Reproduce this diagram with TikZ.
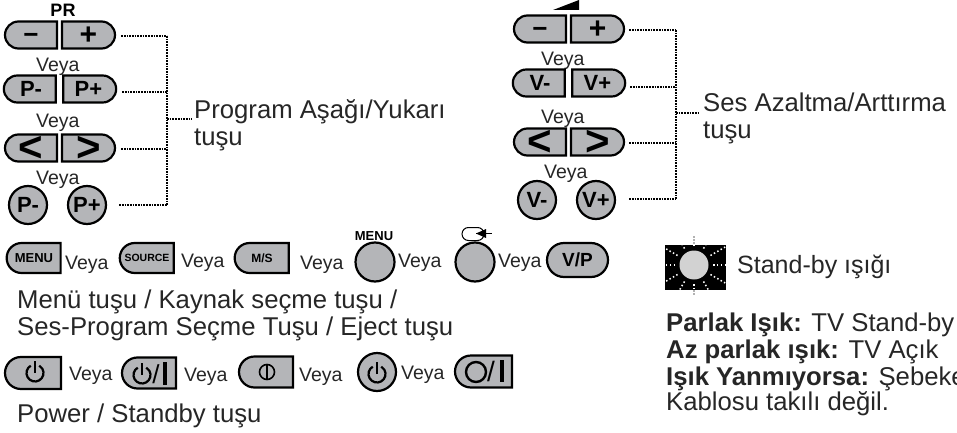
\documentclass[tikz,border=0pt]{standalone}
\usepackage{fontspec}
\setmainfont{Liberation Sans}
\usetikzlibrary{shapes.misc}
\definecolor{keygray}{HTML}{B4B5B8}
\newcommand{\powersym}[3]{%
  \draw[#3] ([shift={(120:#1pt)}]0,0) arc[start angle=120,end angle=420,radius=#1pt];
  \draw[#3] (0,0) -- (0,-#2);}
\newcommand{\keyglyph}[2]{\smash{\fontsize{#1}{#1}\selectfont\raisebox{-.33em}{#2}}}
\tikzset{
  keybody/.style={draw=black,fill=keygray,line width=2.2pt,inner sep=0pt,text=black,font=\bfseries\fontsize{22}{22}\selectfont},
  halfl/.style={keybody,rounded rectangle,rounded rectangle right arc=none,minimum width=52pt,minimum height=27pt},
  halfr/.style={keybody,rounded rectangle,rounded rectangle left arc=none,minimum width=53pt,minimum height=27pt},
  roundkey/.style={keybody,circle,minimum size=38pt},
  widekey/.style={keybody,rounded rectangle,rounded rectangle right arc=none,minimum width=54pt,minimum height=30pt},
  dotline/.style={line width=1.7pt,dash pattern=on 1.7pt off 1pt},
  txt/.style={inner sep=0pt,anchor=base west,text=black!85,font=\fontsize{19.5}{24}\selectfont},
  bigtxt/.style={txt,font=\fontsize{25.7}{30}\selectfont},
  small/.style={inner sep=0pt,font=\bfseries\fontsize{13}{13}\selectfont},
  iconline/.style={line width=2.2pt},
}
\begin{document}
\begin{tikzpicture}[x=1pt,y=-1pt]
\useasboundingbox (0,0) rectangle (957,433);

\node[inner sep=0pt,font=\bfseries\fontsize{18}{18}\selectfont] (prtitle) at (63,10) {PR};
\node[halfl] (prm) at (31,35) {\keyglyph{26}{−}};
\node[halfr] (prp) at (88.5,35) {\keyglyph{30}{+}};
\node[txt] (veya1) at (36,72) {Veya};
\node[halfl] (pm) at (31,89) {P-};
\node[halfr] (pp) at (88.5,89) {P+};
\node[txt] (veya2) at (36,128) {Veya};
\node[halfl] (pl) at (31,148) {\keyglyph{42}{<}};
\node[halfr] (pr) at (88.5,148) {\keyglyph{42}{>}};
\node[txt] (veya3) at (36,184) {Veya};
\node[roundkey] (cpm) at (28,205) {P-};
\node[roundkey] (cpp) at (87,205) {P+};

\coordinate (pa) at (167,36);
\coordinate (pb) at (167,92);
\coordinate (pc) at (167,149);
\coordinate (pd) at (167,205);
\coordinate (pe) at (167,119);
\coordinate (pf) at (192,119);
\node[bigtxt] (progtxt) at (194,118) {Program Aşağı/Yukarı};
\node[bigtxt] (progtxtb) at (194,145) {tuşu};
\draw[dotline] ([shift={(5,1)}]prp.east) -- (pa);
\draw[dotline] ([shift={(5,3)}]pp.east) -- (pb);
\draw[dotline] ([shift={(5,1)}]pr.east) -- (pc);
\draw[dotline] ([shift={(12,0)}]cpp.east) -- (pd);
\draw[dotline] (pa) -- (pd);
\draw[dotline] (pe) -- (pf);

\fill[black] (553,10) -- (579,0) -- (579,10) -- cycle;
\node[halfl] (vm) at (540,29) {\keyglyph{26}{−}};
\node[halfr] (vp) at (597.5,29) {\keyglyph{30}{+}};
\node[txt] (veya4) at (541,66) {Veya};
\node[halfl] (wm) at (540,83) {V-};
\node[halfr] (wp) at (597.5,83) {V+};
\node[txt] (veya5) at (541,123) {Veya};
\node[halfl] (wl) at (540,142) {\keyglyph{42}{<}};
\node[halfr] (wr) at (597.5,142) {\keyglyph{42}{>}};
\node[txt] (veya6) at (544,178) {Veya};
\node[roundkey] (cvm) at (537,200) {V-};
\node[roundkey] (cvp) at (596,200) {V+};

\coordinate (va) at (676,30);
\coordinate (vb) at (676,87);
\coordinate (vc) at (676,143);
\coordinate (vd) at (676,199);
\coordinate (ve) at (676,113);
\coordinate (vf) at (700,113);
\node[bigtxt] (sestxt) at (703,111) {Ses Azaltma/Arttırma};
\node[bigtxt] (sestxtb) at (703,138) {tuşu};
\draw[dotline] ([shift={(4,1)}]vp.east) -- (va);
\draw[dotline] ([shift={(4,4)}]wp.east) -- (vb);
\draw[dotline] ([shift={(4,1)}]wr.east) -- (vc);
\draw[dotline] ([shift={(13,-1)}]cvp.east) -- (vd);
\draw[dotline] (va) -- (vd);
\draw[dotline] (ve) -- (vf);

\node[widekey,font=\bfseries\fontsize{13}{13}\selectfont] (kmenu) at (34,258) {MENU};
\node[txt] (veya7) at (65,269) {Veya};
\node[widekey,font=\bfseries\fontsize{10.5}{10.5}\selectfont] (ksource) at (147,258) {SOURCE};
\node[txt] (veya8) at (181,267) {Veya};
\node[widekey,font=\bfseries\fontsize{12}{12}\selectfont] (kms) at (262,258) {M/S};
\node[txt] (veya9) at (300,269) {Veya};
\node[small] (menutitle) at (374,236) {MENU};
\node[roundkey,minimum size=39pt] (cmenu) at (375,262) {};
\node[txt] (veya10) at (398,267) {Veya};
\node[draw=black,line width=1pt,rounded rectangle,minimum width=22pt,minimum height=13pt,inner sep=0pt] (eject) at (473,234) {};
\coordinate (ejtip) at (476,233.5);
\coordinate (ejend) at (492,233.5);
\fill[black] (ejtip) -- (486,229) -- (486,238) -- cycle;
\draw[line width=0.8pt] (ejtip) -- (ejend);
\node[roundkey,minimum size=39pt] (ceject) at (475,262) {};
\node[txt] (veya11) at (498,267) {Veya};
\node[keybody,rounded rectangle,minimum width=61pt,minimum height=34pt,font=\bfseries\fontsize{19}{19}\selectfont] (kvp) at (577.5,260) {V/P};

\draw[line width=1.5pt,gray!60,dash pattern=on 1.5pt off 1.5pt] (694,236) -- (694,295);
\node[fill=black,inner sep=0pt,minimum width=61pt,minimum height=45pt] (led) at (695.5,267.5) {};
\begin{scope}
\clip (665,245) rectangle (726,290);
\foreach \ang in {0,30,...,330}
  \draw[white,line width=1.5pt,dash pattern=on 1.5pt off 2.4pt] ([shift={(\ang:19pt)}]694,265) -- ([shift={(\ang:36pt)}]694,265);
\end{scope}
\node[circle,fill=gray!35,inner sep=0pt,minimum size=29pt] (ledsun) at (694,265) {};
\node[bigtxt,font=\fontsize{25}{30}\selectfont] (standby) at (737,273) {Stand-by ışığı};

\node[bigtxt] (menutxt) at (17,308) {Menü tuşu / Kaynak seçme tuşu /};
\node[bigtxt] (menutxtb) at (17,335) {Ses-Program Seçme Tuşu / Eject tuşu};

\node[bigtxt] (parlak) at (666,331) {\textbf{Parlak Işık:} TV Stand-by};
\node[bigtxt] (azparlak) at (666,358) {\textbf{Az parlak ışık:} TV Açık};
\node[bigtxt] (yanmiyor) at (666,385) {\textbf{Işık Yanmıyorsa:} Şebeke};
\node[bigtxt] (kablo) at (666,410) {Kablosu takılı değil.};

\node[widekey,minimum height=32pt,minimum width=56pt] (kpow) at (33,373) {};
\begin{scope}[shift={(35,373)}]
\powersym{8.5}{12}{iconline}
\end{scope}
\node[txt] (veya12) at (69,380) {Veya};
\node[widekey,minimum height=31pt] (kpows) at (149,373) {};
\begin{scope}[shift={(142,375)}]
\powersym{8.5}{12}{iconline}
\end{scope}
\node[inner sep=0pt,font=\fontsize{26}{26}\selectfont] (kslash) at (156,374) {/};
\draw[line width=4pt] (165,362) -- (165,385);
\node[txt] (veya13) at (184,381) {Veya};
\node[widekey,minimum height=31pt] (konoff) at (266,372) {};
\node[draw=black,circle,line width=1.6pt,minimum size=15pt,inner sep=0pt] (onring) at (267,372) {};
\draw[line width=1.8pt] (267,365) -- (267,379);
\node[txt] (veya14) at (299,381) {Veya};
\node[roundkey] (cpow) at (377,372) {};
\begin{scope}[shift={(377,374)}]
\powersym{8.5}{12}{iconline}
\end{scope}
\node[txt] (veya15) at (401,379) {Veya};
\node[widekey,minimum height=32pt,minimum width=57pt] (kois) at (483.5,371.5) {};
\node[draw=black,circle,line width=2.4pt,minimum size=20pt,inner sep=0pt] (oring) at (476,372) {};
\node[inner sep=0pt,font=\fontsize{28}{28}\selectfont] (oslash) at (491,371) {/};
\draw[line width=4pt] (501.5,360) -- (501.5,382);
\node[bigtxt] (powertxt) at (17,422) {Power / Standby tuşu};
\end{tikzpicture}
\end{document}
